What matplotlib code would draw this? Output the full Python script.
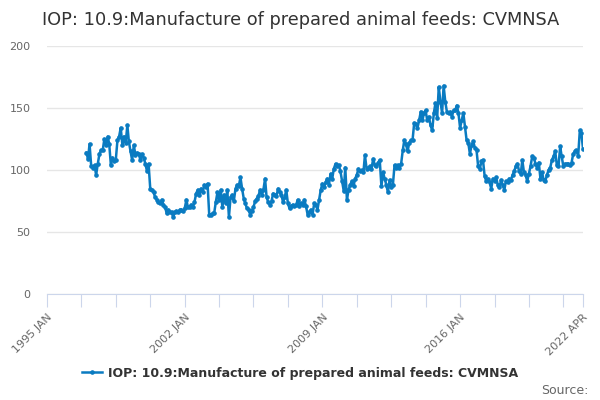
import pandas as pd
import matplotlib.pyplot as plt
import matplotlib.dates as mdates

# monthly index values, 1997 JAN .. 2022 APR
start = '1997-01-01'
values = [
    114, 109, 121, 103, 102, 104, 96, 105, 113, 116, 116, 125,   # 1997
    120, 127, 121, 104, 110, 107, 108, 124, 127, 134, 120, 127,  # 1998
    122, 136, 123, 115, 108, 120, 112, 114, 113, 108, 113, 110,  # 1999
    105, 99, 105, 85, 84, 82, 78, 76, 74, 73, 76, 72,            # 2000
    70, 65, 68, 66, 66, 62, 66, 67, 66, 68, 68, 67,              # 2001
    69, 76, 70, 70, 72, 70, 74, 81, 84, 80, 85, 82,              # 2002
    88, 86, 89, 64, 64, 65, 65, 74, 82, 76, 84, 70,              # 2003
    80, 73, 84, 62, 78, 80, 75, 85, 88, 87, 94, 85,              # 2004
    77, 73, 69, 68, 64, 67, 70, 75, 77, 79, 84, 80,              # 2005
    84, 93, 78, 74, 72, 75, 81, 80, 79, 85, 82, 80,              # 2006
    74, 78, 84, 73, 69, 71, 72, 71, 72, 76, 71, 73,              # 2007
    72, 76, 71, 64, 66, 68, 64, 73, 72, 68, 76, 84,              # 2008
    89, 86, 90, 93, 88, 97, 93, 101, 105, 103, 104, 99,          # 2009
    91, 83, 102, 76, 84, 88, 91, 87, 93, 96, 101, 99,            # 2010
    100, 98, 112, 101, 102, 103, 101, 109, 104, 103, 106, 108,   # 2011
    87, 98, 93, 88, 82, 92, 86, 88, 104, 102, 104, 102,          # 2012
    105, 116, 124, 121, 115, 122, 124, 124, 138, 137, 134, 140,  # 2013
    147, 140, 146, 148, 140, 143, 136, 132, 146, 154, 142, 167,  # 2014
    155, 146, 168, 155, 147, 146, 147, 143, 148, 148, 152, 146,  # 2015
    134, 140, 146, 135, 124, 122, 113, 120, 123, 118, 116, 103,  # 2016
    101, 107, 108, 95, 91, 93, 90, 85, 93, 91, 94, 88,           # 2017
    86, 92, 88, 84, 91, 90, 93, 92, 96, 99, 103, 105,            # 2018
    99, 97, 108, 98, 96, 91, 97, 103, 111, 110, 105, 102,        # 2019
    106, 93, 98, 92, 91, 96, 100, 102, 108, 111, 115, 104,       # 2020
    103, 119, 111, 103, 105, 105, 105, 104, 106, 113, 115, 116,  # 2021
    111, 132, 130, 117,                                          # 2022
]
series_name = 'IOP: 10.9:Manufacture of prepared animal feeds: CVMNSA'
y_ticks = [0, 50, 100, 150, 200]

dates = pd.date_range(start, periods=len(values), freq='MS')

fig = plt.figure(figsize=(6, 4), dpi=100)
ax = fig.add_axes([47 / 600, 106 / 400, 536 / 600, 248 / 400])

line_color = '#0a7bc1'
ax.plot(dates, values, color=line_color, lw=1.8, marker='o', ms=2.3,
        label=series_name)

# y axis
ax.set_ylim(0, 200)
ax.set_yticks(y_ticks)
ax.tick_params(axis='y', length=0, labelsize=8, labelcolor='#666666', pad=12)
ax.grid(axis='y', color='#e6e6e6', lw=1)
ax.set_axisbelow(True)

# x axis: ticks every 21 months from 1995 JAN, plus the last month
x_start = pd.Timestamp('1995-01-01')
x_end = pd.Timestamp('2022-04-01')
tick_dates = list(pd.date_range(x_start, periods=16, freq='21MS')) + [x_end]
tick_labels = []
for i, d in enumerate(tick_dates):
    if i % 4 == 0 or d == x_end:
        tick_labels.append(d.strftime('%Y %b').upper())
    else:
        tick_labels.append('')
ax.set_xlim(x_start, x_end)
ax.set_xticks(tick_dates)
ax.set_xticklabels(tick_labels, rotation=45, ha='right', rotation_mode='anchor')
ax.tick_params(axis='x', length=9, color='#ccd6eb', labelsize=8,
               labelcolor='#666666', pad=4)

for s in ['left', 'right', 'top']:
    ax.spines[s].set_visible(False)
ax.spines['bottom'].set_color('#ccd6eb')

fig.text(42 / 600, 1 - 20 / 400, series_name, fontsize=12.8, color='#333333',
         va='center', ha='left')

fig.legend(loc='center', bbox_to_anchor=(0.5, 1 - 373 / 400), frameon=False,
           prop={'size': 9, 'weight': 'bold'}, labelcolor='#333333',
           handlelength=1.6, handletextpad=0.5)

fig.text(589 / 600, 1 - 390 / 400, 'Source:', fontsize=9, color='#666666',
         ha='right', va='center')

fig.savefig('out.png', dpi=100)
